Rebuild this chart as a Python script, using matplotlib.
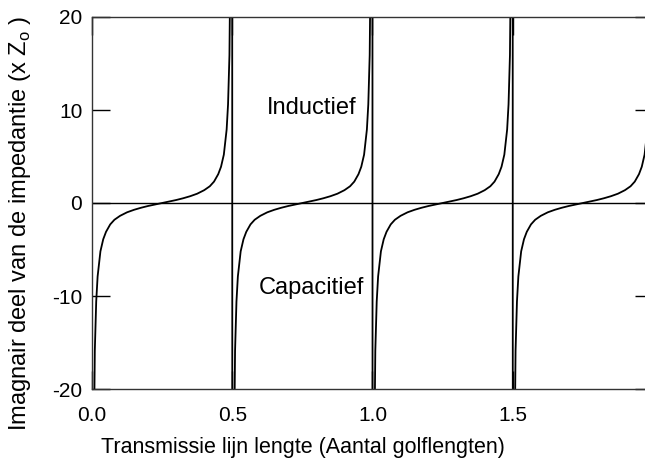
import matplotlib.pyplot as plt

plt.rcParams['font.family'] = ['Liberation Sans', 'DejaVu Sans']
plt.rcParams['axes.unicode_minus'] = False

# een periode van de curve (offset binnen een halve golflengte, waarde in x Zo)
offset = [0.001, 0.005, 0.01, 0.015, 0.02, 0.03, 0.04, 0.05, 0.065, 0.08, 0.1, 0.125,
          0.15, 0.175, 0.2, 0.225, 0.25, 0.275, 0.3, 0.325, 0.35, 0.375, 0.4, 0.42,
          0.435, 0.45, 0.46, 0.47, 0.48, 0.485, 0.49, 0.495, 0.499]
imag = [-159.0, -31.8, -15.9, -10.6, -7.9, -5.2, -3.9, -3.1, -2.3, -1.8, -1.38, -1.0,
        -0.73, -0.51, -0.32, -0.16, 0.0, 0.16, 0.32, 0.51, 0.73, 1.0, 1.38, 1.8,
        2.3, 3.1, 3.9, 5.2, 7.9, 10.6, 15.9, 31.8, 159.0]
periodes = [0.0, 0.5, 1.0, 1.5]

x = []
y = []
for p in periodes:
    for o, v in zip(offset, imag):
        x.append(p + o)
        y.append(v)

fig = plt.figure(figsize=(6.45, 4.62), dpi=100)
ax = fig.add_axes([92 / 645, 73 / 462, 561 / 645, 372 / 462])

ax.axhline(0, color='black', lw=1)
ax.plot(x, y, color='black', lw=1.3)

ax.set_xlim(0, 2.0)
ax.set_ylim(-20, 20)
ax.set_xticks([0.0, 0.5, 1.0, 1.5])
ax.set_xticklabels(['0.0', '0.5', '1.0', '1.5'])
ax.set_yticks([-20, -10, 0, 10, 20])
ax.tick_params(direction='in', length=13, width=1, labelsize=15, right=True,
               top=True, colors='black')
ax.tick_params(axis='x', pad=12)
ax.tick_params(axis='y', pad=7)
for s in ax.spines.values():
    s.set_linewidth(1)
    s.set_color('#333333')

ax.text(0.784, 10.2, 'Inductief', fontsize=17, ha='center', va='center')
ax.text(0.784, -9.1, 'Capacitief', fontsize=17, ha='center', va='center')

ax.set_xlabel('Transmissie lijn lengte (Aantal golflengten)', fontsize=15.5)
ax.xaxis.set_label_coords(0.376, -0.156)
ax.xaxis.label.set_va('center')
ax.set_ylabel('Imagnair deel van de impedantie (x Z$_{\\mathregular{o}}$ )', fontsize=17)
ax.yaxis.set_label_coords(-0.128, 0.446)
ax.yaxis.label.set_va('center')

plt.savefig('out.png', dpi=100)
